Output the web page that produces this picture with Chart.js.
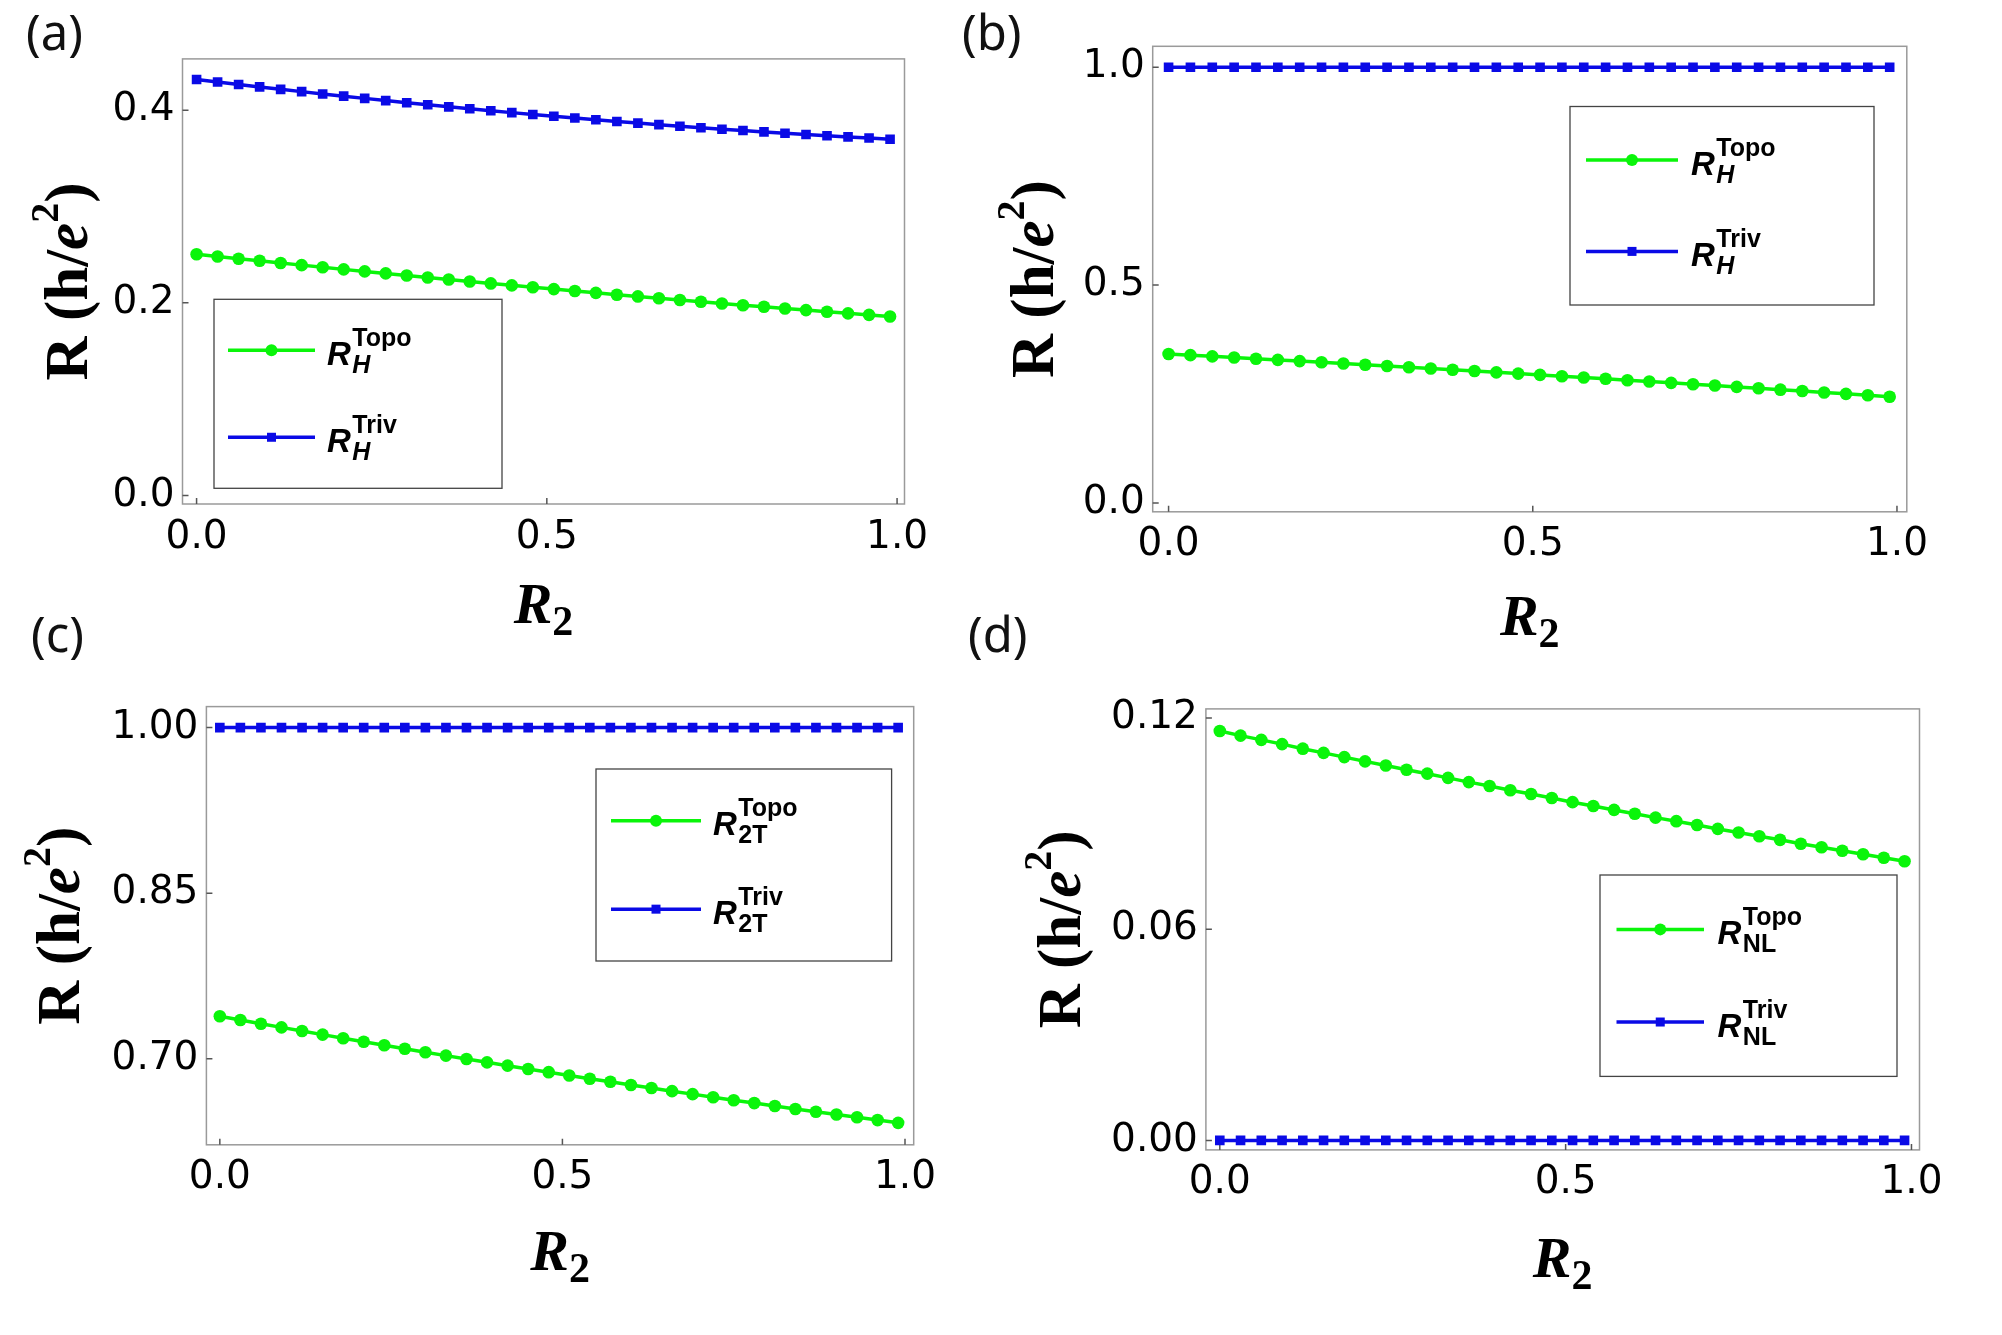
<!DOCTYPE html>
<html>
<head>
<meta charset="utf-8">
<script src="https://cdn.jsdelivr.net/npm/chart.js@4.4.1/dist/chart.umd.min.js"></script>
<style>
  html, body { margin: 0; padding: 0; background: #fff; }
  body { width: 2002px; height: 1335px; position: relative; overflow: hidden; }
  canvas { position: absolute; }
</style>
</head>
<body>
<canvas id="panelA" width="950" height="660" style="left:0px;top:0px"></canvas>
<canvas id="panelB" width="1052" height="660" style="left:950px;top:0px"></canvas>
<canvas id="panelC" width="950" height="735" style="left:0px;top:600px"></canvas>
<canvas id="panelD" width="1052" height="735" style="left:950px;top:600px"></canvas>
<script>
// R2 sample points (same in every panel)
const xR2 = [0, 0.03, 0.06, 0.09, 0.12, 0.15, 0.18, 0.21, 0.24, 0.27, 0.30, 0.33, 0.36, 0.39, 0.42, 0.45, 0.48,
             0.51, 0.54, 0.57, 0.60, 0.63, 0.66, 0.69, 0.72, 0.75, 0.78, 0.81, 0.84, 0.87, 0.90, 0.93, 0.96, 0.99];

// (a) Hall resistance
const aTopo = [0.2505, 0.2482, 0.2459, 0.2437, 0.2414, 0.2392, 0.2370, 0.2348, 0.2327, 0.2306, 0.2284, 0.2263,
               0.2243, 0.2222, 0.2202, 0.2182, 0.2162, 0.2143, 0.2124, 0.2104, 0.2085, 0.2067, 0.2048, 0.2030,
               0.2012, 0.1994, 0.1976, 0.1959, 0.1942, 0.1925, 0.1908, 0.1891, 0.1875, 0.1859];
const aTriv = [0.4320, 0.4294, 0.4268, 0.4243, 0.4218, 0.4194, 0.4170, 0.4147, 0.4124, 0.4101, 0.4079, 0.4058,
               0.4036, 0.4016, 0.3996, 0.3976, 0.3957, 0.3938, 0.3920, 0.3902, 0.3884, 0.3867, 0.3851, 0.3835,
               0.3819, 0.3804, 0.3790, 0.3776, 0.3762, 0.3749, 0.3736, 0.3724, 0.3712, 0.3700];

// (b) Hall resistance
const bTopo = [0.3418, 0.3391, 0.3364, 0.3337, 0.3310, 0.3282, 0.3255, 0.3227, 0.3199, 0.3171, 0.3142, 0.3114,
               0.3085, 0.3056, 0.3027, 0.2997, 0.2968, 0.2938, 0.2908, 0.2878, 0.2848, 0.2817, 0.2787, 0.2756,
               0.2725, 0.2694, 0.2663, 0.2631, 0.2599, 0.2567, 0.2535, 0.2503, 0.2471, 0.2438];
const bTriv = [1, 1, 1, 1, 1, 1, 1, 1, 1, 1, 1, 1, 1, 1, 1, 1, 1, 1, 1, 1, 1, 1, 1, 1, 1, 1, 1, 1, 1, 1, 1, 1, 1, 1];

// (c) two-terminal resistance
const cTopo = [0.7385, 0.7351, 0.7317, 0.7284, 0.7251, 0.7218, 0.7186, 0.7154, 0.7122, 0.7090, 0.7059, 0.7028,
               0.6998, 0.6967, 0.6937, 0.6907, 0.6878, 0.6848, 0.6819, 0.6791, 0.6762, 0.6734, 0.6706, 0.6679,
               0.6651, 0.6624, 0.6598, 0.6571, 0.6545, 0.6519, 0.6494, 0.6469, 0.6444, 0.6419];
const cTriv = [1, 1, 1, 1, 1, 1, 1, 1, 1, 1, 1, 1, 1, 1, 1, 1, 1, 1, 1, 1, 1, 1, 1, 1, 1, 1, 1, 1, 1, 1, 1, 1, 1, 1];

// (d) non-local resistance
const dTopo = [0.1163, 0.1150, 0.1138, 0.1126, 0.1113, 0.1101, 0.1089, 0.1077, 0.1065, 0.1053, 0.1042, 0.1030,
               0.1018, 0.1007, 0.0995, 0.0984, 0.0973, 0.0961, 0.0950, 0.0939, 0.0928, 0.0917, 0.0907, 0.0896,
               0.0885, 0.0875, 0.0864, 0.0854, 0.0843, 0.0833, 0.0823, 0.0813, 0.0803, 0.0793];
const dTriv = [0, 0, 0, 0, 0, 0, 0, 0, 0, 0, 0, 0, 0, 0, 0, 0, 0, 0, 0, 0, 0, 0, 0, 0, 0, 0, 0, 0, 0, 0, 0, 0, 0, 0];

// tick values
const xTicks = [0, 0.5, 1.0];
const aYTicks = [0, 0.2, 0.4];
const bYTicks = [0, 0.5, 1.0];
const cYTicks = [0.70, 0.85, 1.00];
const dYTicks = [0, 0.06, 0.12];

const GREEN = 'rgb(10, 245, 10)';
const BLUE = 'rgb(10, 10, 230)';
const SERIF = '"Liberation Serif", "Times New Roman", serif';
const SANS = '"Liberation Sans", Arial, sans-serif';

function runsWidth(ctx, runs) {
    let w = 0;
    runs.forEach(function (r) { ctx.font = r.font; w += ctx.measureText(r.text).width; });
    return w;
}
function drawRuns(ctx, runs, x, y) {
    let cx = x;
    runs.forEach(function (r) {
        ctx.font = r.font;
        ctx.fillText(r.text, cx, y + (r.dy || 0));
        cx += ctx.measureText(r.text).width;
    });
}

// frame, inner ticks, axis titles, legend and panel label
const decor = {
    id: 'decor',
    beforeDatasetsDraw(chart, args, o) {
        const ctx = chart.ctx, a = chart.chartArea, sx = chart.scales.x, sy = chart.scales.y;
        ctx.save();
        ctx.strokeStyle = '#9a9a9a';
        ctx.lineWidth = 1.5;
        ctx.strokeRect(a.left, a.top, a.right - a.left, a.bottom - a.top);
        ctx.strokeStyle = '#555';
        ctx.beginPath();
        sx.ticks.forEach(function (t) {
            const px = sx.getPixelForValue(t.value);
            ctx.moveTo(px, a.bottom); ctx.lineTo(px, a.bottom - 6);
        });
        sy.ticks.forEach(function (t) {
            const py = sy.getPixelForValue(t.value);
            ctx.moveTo(a.left, py); ctx.lineTo(a.left + 6, py);
        });
        ctx.stroke();
        ctx.restore();
    },
    afterDraw(chart, args, o) {
        const ctx = chart.ctx, a = chart.chartArea;
        ctx.save();
        ctx.textBaseline = 'alphabetic';
        ctx.textAlign = 'left';

        // panel label
        ctx.font = '49px "Noto Sans", "Open Sans", sans-serif';
        ctx.fillStyle = '#111';
        ctx.fillText(o.label, o.labelPos[0], o.labelPos[1]);
        ctx.fillStyle = '#000';

        // y title  R (h/e^2)
        const yRuns = [
            { text: 'R (h/', font: 'bold 61px ' + SERIF },
            { text: 'e', font: 'italic bold 61px ' + SERIF },
            { text: '2', font: 'bold 40px ' + SERIF, dy: -29 },
            { text: ')', font: 'bold 61px ' + SERIF }
        ];
        ctx.save();
        ctx.translate(a.left + o.yTitleDx, (a.top + a.bottom) / 2);
        ctx.rotate(-Math.PI / 2);
        drawRuns(ctx, yRuns, -runsWidth(ctx, yRuns) / 2, 0);
        ctx.restore();

        // x title  R_2
        const xRuns = [
            { text: 'R', font: 'italic bold 58px ' + SERIF },
            { text: '2', font: 'bold 42px ' + SERIF, dy: 12 }
        ];
        drawRuns(ctx, xRuns, (a.left + a.right) / 2 - runsWidth(ctx, xRuns) / 2, a.bottom + o.xTitleDy);

        // legend
        const L = o.legend;
        ctx.fillStyle = '#fff';
        ctx.fillRect(L.x, L.y, L.w, L.h);
        ctx.strokeStyle = '#444';
        ctx.lineWidth = 1.3;
        ctx.strokeRect(L.x, L.y, L.w, L.h);
        chart.data.datasets.forEach(function (ds, i) {
            const ly = L.y + L.h * (i === 0 ? 0.27 : 0.73);
            const mx = L.x + (L.l0 + L.l1) / 2;
            ctx.strokeStyle = ds.borderColor;
            ctx.lineWidth = 3.5;
            ctx.beginPath();
            ctx.moveTo(L.x + L.l0, ly); ctx.lineTo(L.x + L.l1, ly);
            ctx.stroke();
            ctx.fillStyle = ds.borderColor;
            if (ds.pointStyle === 'circle') {
                ctx.beginPath(); ctx.arc(mx, ly, 6, 0, Math.PI * 2); ctx.fill();
            } else {
                ctx.fillRect(mx - 4.5, ly - 4.5, 9, 9);
            }
            const tx = L.x + L.t, base = ly + 14.5;
            ctx.fillStyle = '#000';
            ctx.font = 'italic bold 33px ' + SANS;
            ctx.fillText('R', tx, base);
            const wR = ctx.measureText('R').width;
            ctx.font = 'bold 25px ' + SANS;
            ctx.fillText(ds.sup, tx + wR + 1.5, base - 19);
            ctx.font = (o.subItalic ? 'italic bold 25px ' : 'bold 25px ') + SANS;
            ctx.fillText(o.sub, tx + wR + 1.5, base + 8);
        });
        ctx.restore();
    }
};

const panels = [
    { id: 'panelA', label: '(a)', labelPos: [26, 50], topo: aTopo, triv: aTriv, yTicks: aYTicks, yDec: 1,
      xRange: [-0.0201, 1.0106], yRange: [-0.0089, 0.4534], pad: { top: 58.9, right: 45.5 }, yw: 182.5, xh: 156,
      sub: 'H', subItalic: true, legend: { x: 214, y: 299.3, w: 288, h: 189, l0: 14, l1: 101, t: 113 },
      yTitleDx: -96, xTitleDy: 119 },
    { id: 'panelB', label: '(b)', labelPos: [12, 50], topo: bTopo, triv: bTriv, yTicks: bYTicks, yDec: 1,
      xRange: [-0.0218, 1.0135], yRange: [-0.0204, 1.048], pad: { top: 46.3, right: 95.2 }, yw: 202.7, xh: 148.2,
      sub: 'H', subItalic: true, legend: { x: 620, y: 106.5, w: 304, h: 198.5, l0: 16, l1: 108, t: 121 },
      yTitleDx: -100, xTitleDy: 123 },
    { id: 'panelC', label: '(c)', labelPos: [31, 52], topo: cTopo, triv: cTriv, yTicks: cYTicks, yDec: 2,
      xRange: [-0.0196, 1.0127], yRange: [0.622, 1.019], pad: { top: 106.6, right: 36.3 }, yw: 206.4, xh: 190.2,
      sub: '2T', subItalic: false, legend: { x: 596, y: 169, w: 295.6, h: 192, l0: 15, l1: 105, t: 117 },
      yTitleDx: -127, xTitleDy: 125 },
    { id: 'panelD', label: '(d)', labelPos: [18, 52], topo: dTopo, triv: dTriv, yTicks: dYTicks, yDec: 2,
      xRange: [-0.0201, 1.0116], yRange: [-0.0027, 0.1226], pad: { top: 108.9, right: 82.5 }, yw: 255.9, xh: 185.1,
      sub: 'NL', subItalic: false, legend: { x: 650, y: 275, w: 297, h: 201.4, l0: 16.5, l1: 104, t: 117.5 },
      yTitleDx: -126, xTitleDy: 126.7 }
];

const tickFont = { family: '"DejaVu Sans", sans-serif', size: 39 };

panels.forEach(function (p) {
    const ctx = document.getElementById(p.id).getContext('2d');
    new Chart(ctx, {
        type: 'line',
        data: {
            datasets: [
                {
                    label: 'Topo', sup: 'Topo',
                    data: xR2.map(function (x, i) { return { x: x, y: p.topo[i] }; }),
                    borderColor: GREEN, backgroundColor: GREEN, borderWidth: 3.5,
                    pointStyle: 'circle', pointRadius: 6.3, pointBorderWidth: 0, pointBackgroundColor: GREEN
                },
                {
                    label: 'Triv', sup: 'Triv',
                    data: xR2.map(function (x, i) { return { x: x, y: p.triv[i] }; }),
                    borderColor: BLUE, backgroundColor: BLUE, borderWidth: 3.5,
                    pointStyle: 'rect', pointRadius: 6.8, pointBorderWidth: 0, pointBackgroundColor: BLUE
                }
            ]
        },
        options: {
            responsive: false,
            animation: false,
            layout: { padding: { top: p.pad.top, right: p.pad.right, left: 0, bottom: 0 } },
            scales: {
                x: {
                    type: 'linear', min: p.xRange[0], max: p.xRange[1],
                    grid: { display: false, drawTicks: false }, border: { display: false },
                    ticks: { font: tickFont, color: '#000', padding: 10, maxRotation: 0, autoSkip: false,
                             callback: function (v) { return Number(v).toFixed(1); } },
                    afterBuildTicks: function (s) { s.ticks = xTicks.map(function (v) { return { value: v }; }); },
                    afterFit: function (s) { s.height = p.xh; }
                },
                y: {
                    type: 'linear', min: p.yRange[0], max: p.yRange[1],
                    grid: { display: false, drawTicks: false }, border: { display: false },
                    ticks: { font: tickFont, color: '#000', padding: 8, autoSkip: false,
                             callback: function (v) { return Number(v).toFixed(p.yDec); } },
                    afterBuildTicks: function (s) { s.ticks = p.yTicks.map(function (v) { return { value: v }; }); },
                    afterFit: function (s) { s.width = p.yw; }
                }
            },
            plugins: {
                legend: { display: false },
                tooltip: { enabled: false },
                decor: p
            }
        },
        plugins: [decor]
    });
});
</script>
</body>
</html>
